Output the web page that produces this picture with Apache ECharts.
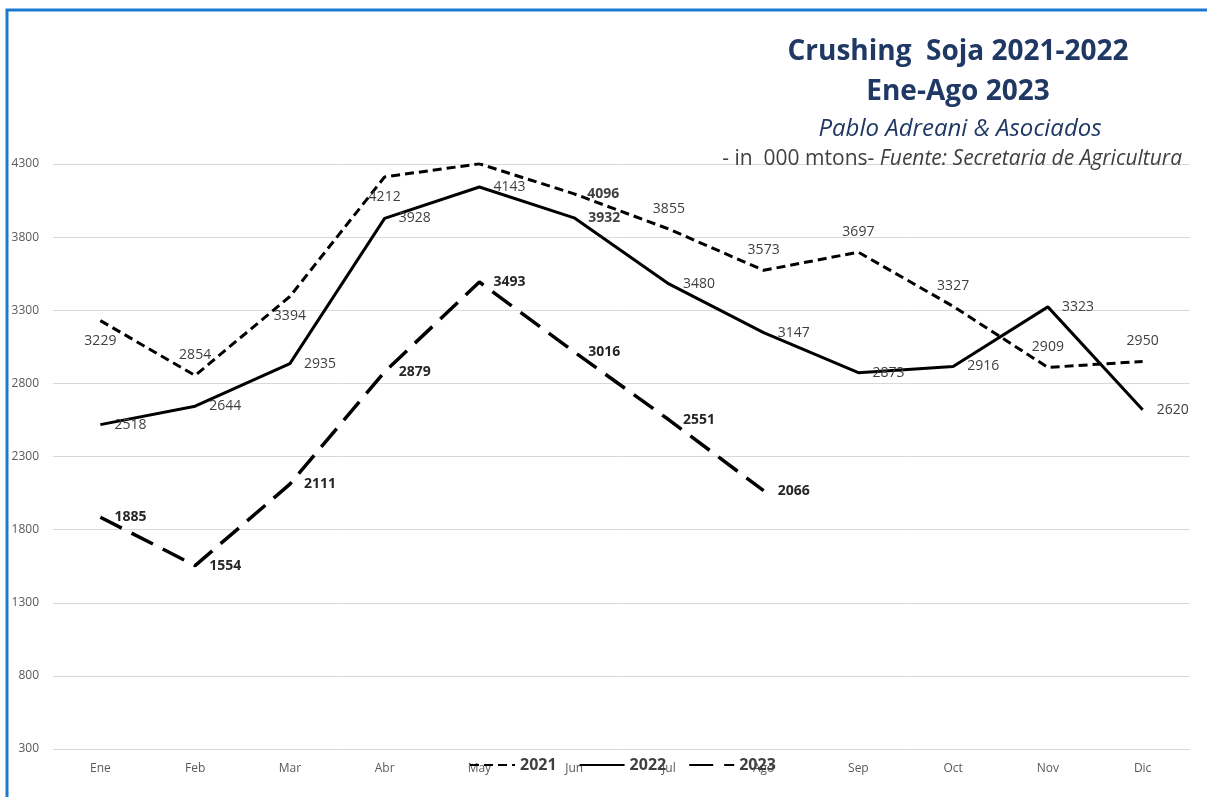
<!DOCTYPE html>
<html>
<head>
<meta charset="utf-8">
<script src="https://cdn.jsdelivr.net/npm/echarts@6/dist/echarts.min.js"></script>
<style>
  html, body { margin: 0; padding: 0; background: #fff; }
  #chart { width: 1207px; height: 797px; }
</style>
</head>
<body>
<div id="chart"></div>
<script>
// months on the x axis
const months = ['Ene', 'Feb', 'Mar', 'Abr', 'May', 'Jun', 'Jul', 'Ago', 'Sep', 'Oct', 'Nov', 'Dic']

// crushing, 000 mtons
const crush2021 = [3229, 2854, 3394, 4212, 4301, 4096, 3855, 3573, 3697, 3327, 2909, 2950]
const crush2022 = [2518, 2644, 2935, 3928, 4143, 3932, 3480, 3147, 2873, 2916, 3323, 2620]
const crush2023 = [1885, 1554, 2111, 2879, 3493, 3016, 2551, 2066]

// label placement for the 2021 line (Excel put them by hand)
const labelPos2021 = ['bottom', 'top', 'bottom', 'bottom', 'top', 'right', 'top', 'top', 'top', 'top', 'top', 'top']
const boldIdx2021 = [5]
const boldIdx2022 = [5]

const labelColor = '#404040'
const axisColor = '#595959'
const titleColor = '#1F3864'
const font = '"Open Sans", "Noto Sans", sans-serif'

const chart = echarts.init(document.getElementById('chart'))

const buildData = (values, positions, boldIdx) => values.map((v, i) => ({
  value: v,
  label: {
    position: positions ? positions[i] : 'right',
    fontWeight: boldIdx && boldIdx.includes(i) ? 'bold' : 'normal'
  }
}))

const option = {
  animation: false,
  backgroundColor: '#fff',
  textStyle: { fontFamily: font },
  title: [
    {
      text: 'Crushing  Soja 2021-2022',
      left: 953, top: 33, textAlign: 'center',
      textStyle: { fontSize: 28, fontWeight: 'bold', color: titleColor, fontFamily: font }
    },
    {
      text: 'Ene-Ago 2023',
      left: 953, top: 73, textAlign: 'center',
      textStyle: { fontSize: 28, fontWeight: 'bold', color: titleColor, fontFamily: font }
    },
    {
      text: 'Pablo Adreani & Asociados',
      left: 955, top: 112, textAlign: 'center',
      textStyle: { fontSize: 24, fontStyle: 'italic', fontWeight: 'normal', color: titleColor, fontFamily: font }
    },
    {
      text: '{a|- in  000 mtons- }{b|Fuente: Secretaria de Agricultura}',
      right: 20, top: 144,
      textStyle: {
        fontWeight: 'normal',
        rich: {
          a: { fontSize: 21, color: labelColor, fontWeight: 'normal', fontFamily: font },
          b: { fontSize: 21, color: labelColor, fontWeight: 'normal', fontStyle: 'italic', fontFamily: font }
        }
      }
    }
  ],
  graphic: [
    {
      type: 'polyline',
      shape: { points: [[7, 797], [7, 10], [1207, 10]] },
      style: { stroke: '#1a7ad0', lineWidth: 3, fill: null }
    }
  ],
  legend: {
    left: 464, top: 752,
    itemWidth: 45, itemHeight: 14, itemGap: 22,
    itemStyle: { opacity: 0 },
    textStyle: { fontSize: 16, fontWeight: 'bold', color: labelColor, fontFamily: font },
    data: ['2021', '2022', '2023']
  },
  grid: { left: 53, right: 17, top: 164, bottom: 48 },
  xAxis: {
    type: 'category',
    data: months,
    boundaryGap: true,
    axisLine: { show: false },
    axisTick: { show: false },
    axisLabel: { color: axisColor, fontSize: 12, margin: 14, fontFamily: font }
  },
  yAxis: {
    type: 'value',
    min: 300, max: 4300, interval: 500,
    axisLine: { show: false },
    axisTick: { show: false },
    axisLabel: { color: axisColor, fontSize: 12, margin: 14, fontFamily: font, formatter: v => String(v) },
    splitLine: { lineStyle: { color: '#d9d9d9', width: 1 } }
  },
  series: [
    {
      name: '2021', type: 'line', symbol: 'circle', symbolSize: 0,
      data: buildData(crush2021, labelPos2021, boldIdx2021),
      lineStyle: { color: '#000', width: 3, type: [9, 5] },
      itemStyle: { color: '#000' },
      label: { show: true, distance: 13, color: labelColor, fontSize: 14, fontFamily: font }
    },
    {
      name: '2022', type: 'line', symbol: 'circle', symbolSize: 0,
      data: buildData(crush2022, null, boldIdx2022),
      lineStyle: { color: '#000', width: 3 },
      itemStyle: { color: '#000' },
      label: { show: true, distance: 14, color: labelColor, fontSize: 14, fontFamily: font }
    },
    {
      name: '2023', type: 'line', symbol: 'circle', symbolSize: 0,
      data: buildData(crush2023, null, crush2023.map((v, i) => i)),
      lineStyle: { color: '#000', width: 3.5, type: [24, 11] },
      itemStyle: { color: '#000' },
      label: { show: true, distance: 14, color: '#262626', fontSize: 14, fontFamily: font }
    }
  ]
}

chart.setOption(option)
window.addEventListener('resize', () => chart.resize())
</script>
</body>
</html>
